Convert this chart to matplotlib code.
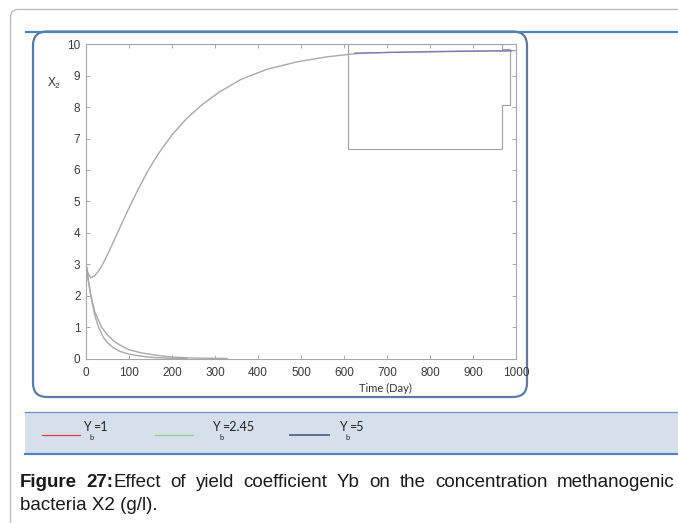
import matplotlib
matplotlib.use("Agg")
import matplotlib.pyplot as plt
from matplotlib.patches import FancyBboxPatch, Rectangle, Polygon

# X2 (g/l) versus time (day)
t_rise = [0, 5, 11, 20, 30, 40, 55, 75, 95, 120, 145, 170, 200, 235, 270, 310,
          360, 420, 490, 560, 625, 700, 800, 900, 1000]
x2_rise = [3.0, 2.7, 2.57, 2.63, 2.8, 3.03, 3.45, 4.05, 4.65, 5.35, 6.0, 6.55,
           7.12, 7.65, 8.08, 8.48, 8.88, 9.2, 9.44, 9.6, 9.7, 9.74, 9.77, 9.79, 9.8]

t_yb5 = [625, 700, 800, 900, 990]
x2_yb5 = [9.72, 9.74, 9.76, 9.78, 9.79]

t_fall_a = [0, 5, 11, 20, 29, 40, 50, 65, 80, 100, 125, 150, 190, 235]
x2_fall_a = [3.0, 2.5, 2.0, 1.4, 1.0, 0.68, 0.5, 0.33, 0.22, 0.14, 0.08, 0.04, 0.01, 0.0]

t_fall_b = [0, 5, 11, 20, 36, 50, 65, 80, 100, 125, 150, 195, 250, 328]
x2_fall_b = [3.0, 2.55, 2.05, 1.5, 1.0, 0.75, 0.55, 0.42, 0.28, 0.19, 0.13, 0.05, 0.015, 0.0]

x_ticks = list(range(0, 1001, 100))
y_ticks = list(range(0, 11))

legend_values = ["=1", "=2.45", "=5"]
legend_colors = ["#e23a3f", "#93d17f", "#5d6d9b"]

caption_words = ["of", "yield", "coefficient", "Yb", "on", "the", "concentration", "methanogenic"]

W, H = 678, 523
fig = plt.figure(figsize=(W / 100, H / 100), dpi=100)

# page layer in pixel units
bg = fig.add_axes([0, 0, 1, 1], zorder=0)
bg.set_xlim(0, W)
bg.set_ylim(H, 0)
bg.axis("off")

bg.add_patch(FancyBboxPatch((10.5, 9.5), 720, 600, boxstyle="round,pad=0,rounding_size=8",
                            fc="white", ec="#b8b8b8", lw=0.9))
bg.add_patch(FancyBboxPatch((33, 31.5), 494, 365.5, boxstyle="round,pad=0,rounding_size=14",
                            fc="white", ec="#5b7aa6", lw=1.6))
bg.plot([25, W], [31.5, 31.5], color="#4f81bd", lw=1.6, solid_capstyle="butt")

# legend band
bg.add_patch(Rectangle((25, 412), W, 42, fc="#d6e0ec", ec="none"))
bg.plot([25, W], [412, 412], color="#6a91c4", lw=0.9)
bg.plot([25, W], [454, 454], color="#4f81bd", lw=1.6)

swatch_x = [(42, 80), (155, 193), (290, 329)]
label_x = [83, 212, 339]
for (x0, x1), lx, val, col in zip(swatch_x, label_x, legend_values, legend_colors):
    bg.plot([x0, x1], [435, 435], color=col, lw=1.4 if col == "#5d6d9b" else 0.9)
    bg.text(lx, 431, "Y", fontsize=9, family="Lato", color="#222222", va="baseline")
    bg.text(lx + 10, 431, val, fontsize=9, family="Lato", color="#222222", va="baseline")
    bg.text(lx + 7, 439.5, "b", fontsize=5.5, family="Lato", color="#222222", va="baseline")

# caption, first line justified between 20 and 675
renderer = fig.canvas.get_renderer()
cap_kw = dict(fontsize=13.5, family="Liberation Sans", color="#1a1a1a", va="baseline")
left, right, base1 = 20, 675, 487
t_fig = bg.text(left, base1, "Figure", fontweight="bold", **cap_kw)
t_27 = bg.text(left, base1, "27:", fontweight="bold", **cap_kw)
t_eff = bg.text(left, base1, "Effect", **cap_kw)
others = [bg.text(left, base1, w, **cap_kw) for w in caption_words]
wid = lambda t: t.get_window_extent(renderer).width
w_fig = wid(t_fig)
w_27 = wid(t_27)
w_eff = wid(t_eff)
w_others = [wid(t) for t in others]
total = w_fig + w_27 + w_eff + sum(w_others)
gap = (right - left - total) / (len(others) + 1)
x = left + w_fig + gap
t_27.set_x(x)
t_eff.set_x(x + w_27)
x = x + w_27 + w_eff + gap
for t, w in zip(others, w_others):
    t.set_x(x)
    x += w + gap
bg.text(left, 509.5, "bacteria X2 (g/l).", **cap_kw)

# chart
ax = fig.add_axes([86 / W, 1 - 358.5 / H, 430 / W, 314.2 / H], zorder=2)
ax.set_facecolor("white")
line_kw = dict(color="#a9a9a9", lw=1.0)
ax.plot(t_rise, x2_rise, **line_kw)
ax.plot(t_fall_a, x2_fall_a, **line_kw)
ax.plot(t_fall_b, x2_fall_b, **line_kw)

# legend frame left behind in the plot area
frame = [(0.609, 0.667), (0.609, 1.0), (0.967, 1.0), (0.967, 0.984), (0.986, 0.984),
         (0.986, 0.807), (0.967, 0.807), (0.967, 0.667)]
ax.add_patch(Polygon(frame, closed=True, fill=False, ec="#a2a2a2", lw=0.8,
                     transform=ax.transAxes))
ax.plot(t_yb5, x2_yb5, color="#7a78b8", lw=0.9)

ax.set_xlim(0, 1000)
ax.set_ylim(0, 10)
ax.set_xticks(x_ticks)
ax.set_yticks(y_ticks)
for s in ax.spines.values():
    s.set_color("#a6a6a6")
    s.set_linewidth(0.8)
ax.tick_params(direction="in", length=3, width=0.6, color="#9a9a9a",
               top=True, right=True, labelcolor="#3a3a3a", labelsize=8.5)
ax.tick_params(axis="x", pad=6)
ax.tick_params(axis="y", pad=4)
for lab in ax.get_xticklabels() + ax.get_yticklabels():
    lab.set_family(["Liberation Sans Narrow", "Liberation Sans"])

fig.text(385 / W, 1 - 388 / H, "Time (Day)", fontsize=8, family="Lato", color="#333333",
         ha="center", va="center", zorder=3)
fig.text(47 / W, 1 - 83 / H, r"$\mathregular{X_2}$", fontsize=8.5,
         family=["Liberation Sans Narrow", "Liberation Sans"], color="#333333",
         ha="left", va="center", zorder=3)

fig.savefig("out.png", dpi=100)
